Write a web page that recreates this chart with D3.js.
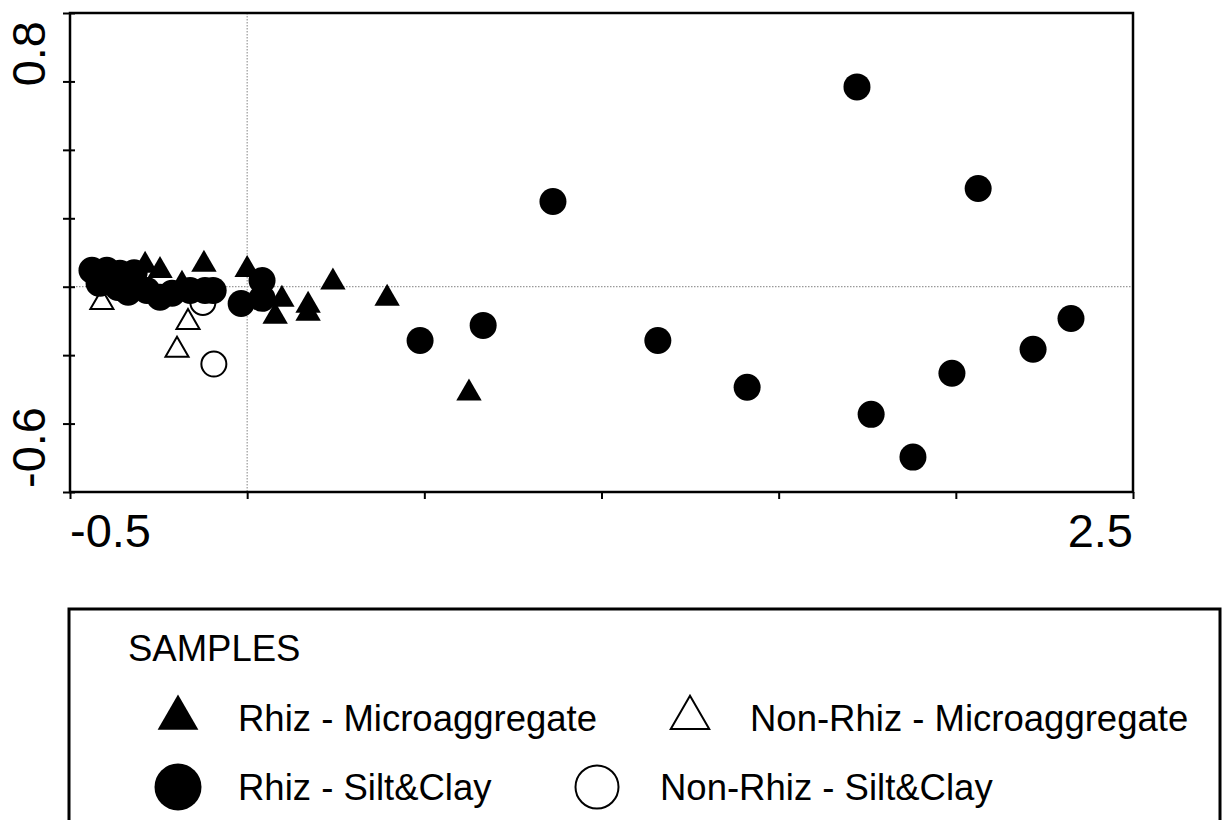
<!DOCTYPE html>
<html>
<head>
<meta charset="utf-8">
<script src="https://cdn.jsdelivr.net/npm/d3@7"></script>
<style>
  html, body { margin: 0; padding: 0; background: #fff; }
  svg { display: block; font-family: "Liberation Sans", Arial, sans-serif; }
</style>
</head>
<body>
<div id="chart"></div>
<script>
// Ordination scores: [axis1, axis2]
const rhizMicro = [
  [-0.288, 0.062], [-0.246, 0.047], [-0.122, 0.065], [-0.184, 0.007],
  [0.000, 0.050], [0.098, -0.037], [0.079, -0.087], [0.172, -0.055],
  [0.172, -0.078], [0.242, 0.013], [0.395, -0.034], [0.626, -0.311]
];
const nonRhizMicro = [
  [-0.410, -0.046], [-0.167, -0.104], [-0.198, -0.185]
];
const rhizSilt = [
  [-0.438, 0.048], [-0.396, 0.048], [-0.359, 0.039], [-0.319, 0.041],
  [-0.415, 0.010], [-0.365, -0.002], [-0.336, -0.016], [-0.283, -0.011],
  [-0.246, -0.031], [-0.212, -0.019], [-0.161, -0.011], [-0.119, -0.011],
  [-0.096, -0.011], [-0.017, -0.049], [0.042, 0.018], [0.042, -0.034],
  [1.721, 0.584], [2.063, 0.287], [0.863, 0.249], [0.666, -0.113],
  [0.488, -0.157], [1.159, -0.157], [1.411, -0.294], [1.761, -0.373],
  [1.879, -0.498], [1.989, -0.253], [2.218, -0.183], [2.325, -0.093]
];
const nonRhizSilt = [
  [-0.418, 0.010], [-0.125, -0.046], [-0.094, -0.226]
];

const xTicks = [-0.5, 0, 0.5, 1.0, 1.5, 2.0, 2.5];
const yTicks = [-0.6, -0.4, -0.2, 0, 0.2, 0.4, 0.6, 0.8];
const xLabels = [-0.5, 2.5];
const yLabels = [0.8, -0.6];

const legendItems = [
  { label: 'Rhiz - Microaggregate', shape: 'triangle', filled: true },
  { label: 'Non-Rhiz - Microaggregate', shape: 'triangle', filled: false },
  { label: 'Rhiz - Silt&Clay', shape: 'circle', filled: true },
  { label: 'Non-Rhiz - Silt&Clay', shape: 'circle', filled: false }
];

const W = 1223, H = 820;
const plot = { left: 70, right: 1133, top: 13, bottom: 492 };

const svg = d3.select('#chart').append('svg')
  .attr('width', W).attr('height', H);

const x = d3.scaleLinear().domain([-0.5, 2.5]).range([plot.left, plot.right]);
const y = d3.scaleLinear().domain([-0.6, 0.8]).range([plot.bottom, plot.top]);

// Zero reference lines
svg.append('line')
  .attr('x1', x(0)).attr('x2', x(0))
  .attr('y1', plot.top).attr('y2', plot.bottom)
  .attr('stroke', '#999').attr('stroke-width', 1.2).attr('stroke-dasharray', '1.5,1.5');
svg.append('line')
  .attr('x1', plot.left).attr('x2', plot.right)
  .attr('y1', y(0)).attr('y2', y(0))
  .attr('stroke', '#999').attr('stroke-width', 1.2).attr('stroke-dasharray', '1.5,1.5');

// Frame
svg.append('rect')
  .attr('x', plot.left).attr('y', plot.top)
  .attr('width', plot.right - plot.left).attr('height', plot.bottom - plot.top)
  .attr('fill', 'none').attr('stroke', '#000').attr('stroke-width', 2.5);

// Axes (ticks only, labels added by hand at the ends)
const xAxis = svg.append('g')
  .attr('transform', `translate(0,${plot.bottom})`)
  .call(d3.axisBottom(x).tickValues(xTicks).tickSize(7).tickFormat(''));
xAxis.select('.domain').remove();
xAxis.selectAll('.tick line').attr('stroke', '#000').attr('stroke-width', 2);

const yAxis = svg.append('g')
  .attr('transform', `translate(${plot.left},0)`)
  .call(d3.axisLeft(y).tickValues(yTicks).tickSize(7).tickFormat(''));
yAxis.select('.domain').remove();
yAxis.selectAll('.tick line')
  .attr('x1', 5).attr('x2', -7)
  .attr('stroke', '#000').attr('stroke-width', 2);

svg.selectAll('.xlab').data(xLabels).enter().append('text')
  .attr('class', 'xlab')
  .attr('x', d => x(d))
  .attr('y', 547)
  .attr('text-anchor', (d, i) => i === 0 ? 'start' : 'end')
  .attr('font-size', 47)
  .attr('fill', '#000')
  .text(d => d.toFixed(1));

svg.selectAll('.ylab').data(yLabels).enter().append('text')
  .attr('class', 'ylab')
  .attr('transform', (d, i) => `translate(45,${i === 0 ? y(d) + 8 : y(d) - 4}) rotate(-90)`)
  .attr('text-anchor', (d, i) => i === 0 ? 'end' : 'start')
  .attr('font-size', 47)
  .attr('fill', '#000')
  .text(d => d.toFixed(1));

// Markers
const triSize = 280;
const tri = d3.symbol().type(d3.symbolTriangle).size(triSize);
const r = 13.5;

const marks = svg.append('g');

marks.selectAll('.nrs').data(nonRhizSilt).enter().append('circle')
  .attr('cx', d => x(d[0])).attr('cy', d => y(d[1])).attr('r', r - 1)
  .attr('fill', '#fff').attr('stroke', '#000').attr('stroke-width', 2);

marks.selectAll('.nrm').data(nonRhizMicro).enter().append('path')
  .attr('d', d3.symbol().type(d3.symbolTriangle).size(230))
  .attr('transform', d => `translate(${x(d[0])},${y(d[1])})`)
  .attr('fill', '#fff').attr('stroke', '#000').attr('stroke-width', 2);

marks.selectAll('.rs').data(rhizSilt).enter().append('circle')
  .attr('cx', d => x(d[0])).attr('cy', d => y(d[1])).attr('r', r)
  .attr('fill', '#000');

marks.selectAll('.rm').data(rhizMicro).enter().append('path')
  .attr('d', tri)
  .attr('transform', d => `translate(${x(d[0])},${y(d[1])})`)
  .attr('fill', '#000');

// Legend
const lg = svg.append('g');
lg.append('rect')
  .attr('x', 69).attr('y', 609)
  .attr('width', 1151).attr('height', 240)
  .attr('fill', 'none').attr('stroke', '#000').attr('stroke-width', 3);

lg.append('text')
  .attr('x', 128).attr('y', 661)
  .attr('font-size', 36.5).attr('fill', '#000')
  .text('SAMPLES');

const legendPos = [
  { sx: 178, tx: 238, y: 718 },
  { sx: 690, tx: 750, y: 718 },
  { sx: 178, tx: 238, y: 787 },
  { sx: 597, tx: 660, y: 787 }
];

legendItems.forEach((d, i) => {
  const p = legendPos[i];
  if (d.shape === 'triangle') {
    lg.append('path')
      .attr('d', d3.symbol().type(d3.symbolTriangle).size(d.filled ? 720 : 640))
      .attr('transform', `translate(${p.sx},${p.y})`)
      .attr('fill', d.filled ? '#000' : '#fff')
      .attr('stroke', d.filled ? 'none' : '#000')
      .attr('stroke-width', 2);
  } else {
    lg.append('circle')
      .attr('cx', p.sx).attr('cy', p.y).attr('r', d.filled ? 23.5 : 21.5)
      .attr('fill', d.filled ? '#000' : '#fff')
      .attr('stroke', d.filled ? 'none' : '#000')
      .attr('stroke-width', 2);
  }
  lg.append('text')
    .attr('x', p.tx).attr('y', p.y + 13)
    .attr('font-size', 36.5).attr('fill', '#000')
    .text(d.label);
});
</script>
</body>
</html>
